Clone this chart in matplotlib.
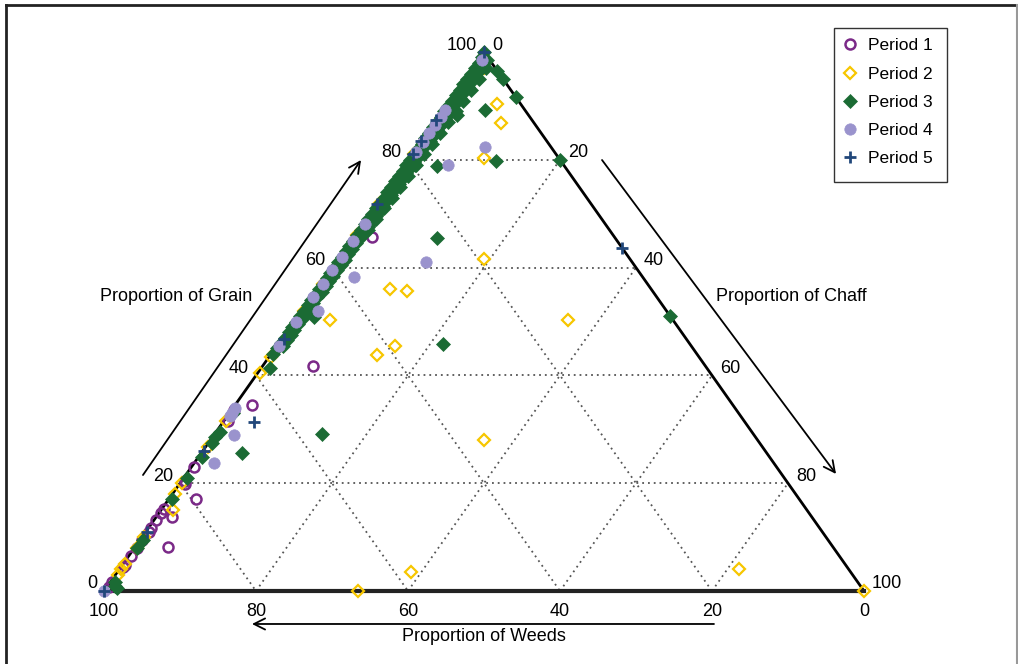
import matplotlib
matplotlib.use("Agg")
import matplotlib.pyplot as plt
from matplotlib.lines import Line2D
from matplotlib.patches import Rectangle
import numpy as np

plt.rcParams['font.family'] = ['Liberation Sans', 'DejaVu Sans']

# ---------------- data (percent grain, percent chaff; weeds = 100 - grain - chaff)
p1_grain = [65.7, 41.7, 34.5, 33.5, 31.5, 23.0, 20.5, 19.8, 17.1, 15.2, 14.5, 13.7,
            13.2, 11.7, 11.0, 9.5, 8.2, 8.0, 6.5, 4.8, 4.5, 1.7, 0.8]
p1_chaff = [2.4, 6.6, 2.2, 0.3, 0.5, 0.3, 0.4, 0.8, 3.5, 0.3, 0.2, 2.1,
            0.3, 0.3, 0.4, 0.2, 4.3, 0.3, 0.3, 0.4, 0.2, 0.2, 0.3]

p2_grain = [97.0, 90.4, 86.8, 80.3, 61.6, 56.0, 55.7, 50.3, 50.3, 43.8, 45.5, 28.0,
            3.5, 0.0, 4.1, 0.0, 15.0,
            81.0, 72.0, 66.0, 57.0, 52.0, 43.4, 40.4, 31.5, 26.7, 20.0, 18.0, 10.0,
            8.0, 5.0, 4.0, 3.0]
p2_chaff = [1.5, 6.5, 8.8, 9.8, 19.2, 9.6, 12.0, 4.6, 35.9, 14.0, 15.6, 36.0,
            38.6, 33.4, 81.5, 100.0, 1.6,
            0.3, 0.3, 0.3, 0.3, 0.3, 0.3, 0.3, 0.3, 0.3, 0.3, 0.3, 0.3,
            0.3, 0.3, 0.3, 0.3]

p3_grain = [96.5, 95.0, 91.7, 89.2, 79.8, 78.9, 79.0, 65.5, 45.8, 29.1, 50.8, 25.6,
            80.0, 51.0, 88.3,
            100, 99, 98, 97, 96, 95, 94, 93, 92, 91, 90, 89, 88, 87, 86, 85, 84, 83,
            82, 81, 80, 79, 78, 77, 76, 75, 74, 73, 72, 71, 70, 69, 68, 67, 66, 65,
            64, 63, 62, 61, 60, 59, 58, 57, 56, 55, 54, 53, 52, 51, 50, 49, 48, 47,
            46, 45, 44,
            98.5, 97.5, 96.5, 95.5, 94.5, 93.5, 92.5, 91.5, 90.5, 89.5, 88.5, 87.5,
            86.5, 85.5, 84.5, 83.5, 82.5, 81.5, 80.5, 79.5, 78.5, 77.5, 76.5, 75.5,
            74.5, 73.5, 72.5, 71.5, 70.5, 69.5, 68.5, 67.5, 66.5, 65.5, 64.5, 63.5,
            62.5, 61.5, 60.5, 59.5, 58.5, 57.5, 56.5, 55.5, 54.5, 53.5, 52.5, 51.5,
            50.5, 49.5, 48.5, 47.5, 46.5, 45.5,
            97.0, 95.0, 93.0, 91.0, 89.0, 87.0, 85.0, 83.0, 81.0, 79.0, 77.0, 75.0,
            73.0, 71.0, 69.0, 67.0,
            41.4, 33.0, 29.5, 28.5, 27.5, 24.9, 21.0, 17.0, 9.5, 8.0, 1.7, 1.0, 0.5]
p3_chaff = [3.5, 5.0, 8.3, 5.5, 11.7, 4.3, 1.4, 11.0, 21.7, 14.1, 2.2, 5.4,
            20.0, 49.0, 2.3,
            0.0, 0.3, 0.3, 0.3, 0.3, 0.3, 0.3, 0.3, 0.3, 0.3, 0.3, 0.3, 0.3, 0.3,
            0.3, 0.3, 0.3, 0.3, 0.3, 0.3, 0.3, 0.3, 0.3, 0.3, 0.3, 0.3, 0.3, 0.3,
            0.3, 0.3, 0.3, 0.3, 0.3, 0.3, 0.3, 0.3, 0.3, 0.3, 0.3, 0.3, 0.3, 0.3,
            0.3, 0.3, 0.3, 0.3, 0.3, 0.3, 0.3, 0.3, 0.3, 0.3, 0.3, 0.3, 0.3, 0.3,
            0.3,
            1.1, 1.1, 1.1, 1.1, 1.1, 1.1, 1.1, 1.1, 1.1, 1.1, 1.1, 1.1,
            1.1, 1.1, 1.1, 1.1, 1.0, 1.0, 1.0, 1.0, 1.0, 1.0, 1.0, 1.0,
            1.0, 1.0, 1.0, 1.0, 1.0, 1.0, 1.0, 1.0, 0.9, 0.9, 0.9, 0.9,
            0.9, 0.9, 0.9, 0.9, 0.9, 0.9, 0.9, 0.9, 0.8, 0.8, 0.8, 0.8,
            0.8, 0.8, 0.8, 0.8, 0.8, 0.8,
            1.8, 1.8, 1.8, 1.8, 1.8, 1.8, 1.7, 1.7, 1.6, 1.6, 1.5, 1.5,
            1.4, 1.4, 1.3, 1.3,
            1.1, 0.5, 0.5, 0.4, 0.4, 0.5, 0.4, 0.4, 0.4, 0.4, 0.6, 1.0, 1.5]

p4_grain = [98.5, 82.4, 79.0, 61.0, 58.3, 52.0, 28.9, 23.7,
            89.2, 88.0, 86.5, 85.0, 83.3, 81.5, 68.0, 65.0, 62.0, 59.5, 57.0, 54.5,
            50.0, 45.5, 34.0, 33.0, 32.5, 0.0]
p4_chaff = [0.5, 8.9, 5.8, 11.9, 3.7, 2.2, 2.7, 2.6,
            0.3, 0.3, 0.3, 0.3, 0.3, 0.3, 0.3, 0.3, 0.3, 0.3, 0.3, 0.3,
            0.3, 0.3, 0.3, 0.3, 0.3, 0.0]

p5_grain = [100.0, 63.6, 31.4, 0.0, 87.4, 83.5, 81.0, 71.8, 46.8, 26.0, 11.0]
p5_chaff = [0.0, 36.4, 4.0, 0.0, 0.0, 0.0, 0.2, 0.0, 0.3, 0.2, 0.2]

series_labels = ["Period 1", "Period 2", "Period 3", "Period 4", "Period 5"]
tick_values = [0, 20, 40, 60, 80, 100]


def tern(grain, chaff):
    g = np.asarray(grain, float) / 100.0
    c = np.asarray(chaff, float) / 100.0
    return c + g / 2.0, g


# ---------------- figure
W, H = 1018, 664
fig = plt.figure(figsize=(W / 100, H / 100), dpi=100)
fig.patch.set_facecolor('white')
ax = fig.add_axes([104 / W, (H - 591) / H, 760 / W, 539 / H])
ax.set_xlim(0, 1)
ax.set_ylim(0, 1)
ax.axis('off')

# grid lines
for k in [20, 40, 60, 80]:
    segs = [((k, 0), (k, 100 - k)),            # grain constant
            ((0, k), (100 - k, k)),            # chaff constant
            ((100 - k, 0), (0, 100 - k))]      # weeds constant
    for (g0, c0), (g1, c1) in segs:
        x, y = tern([g0, g1], [c0, c1])
        ax.plot(x, y, linestyle=(0, (1, 2.2)), color='#555555', lw=1.3,
                clip_on=False, zorder=1)

# triangle
tx, ty = tern([0, 100, 0, 0], [0, 0, 100, 0])
ax.plot(tx[:2], ty[:2], color='black', lw=2, clip_on=False, zorder=2)
ax.plot(tx[1:3], ty[1:3], color='black', lw=2, clip_on=False, zorder=2)
ax.plot(tx[2:4], ty[2:4], color='#222222', lw=3, clip_on=False, zorder=2)

# points
styles = [
    dict(marker='o', ms=7.2, mfc='none', mec='#7B2A88', mew=1.8),
    dict(marker='D', ms=6.2, mfc='none', mec='#F7C600', mew=1.6),
    dict(marker='D', ms=7.4, mfc='#1B6B34', mec='#1B6B34', mew=0.5),
    dict(marker='o', ms=8.2, mfc='#9A93CD', mec='#9A93CD', mew=0.5),
    dict(marker='+', ms=8, mfc='none', mec='#21477A', mew=2.0),
]
data = [(p1_grain, p1_chaff), (p2_grain, p2_chaff), (p3_grain, p3_chaff),
        (p4_grain, p4_chaff), (p5_grain, p5_chaff)]
handles = []
for i, ((g, c), st) in enumerate(zip(data, styles)):
    x, y = tern(g, c)
    ax.plot(x, y, linestyle='none', clip_on=False, zorder=3 + i, **st)
    handles.append(Line2D([], [], linestyle='none', label=series_labels[i], **st))

# tick labels
fs = 13
for v in tick_values:
    x, y = tern([v], [0])
    ax.annotate(str(v), (x[0], y[0]), xytext=(-7, 7), textcoords='offset pixels',
                ha='right', va='center', fontsize=fs, annotation_clip=False)
    x, y = tern([100 - v], [v])
    ax.annotate(str(v), (x[0], y[0]), xytext=(8, 7), textcoords='offset pixels',
                ha='left', va='center', fontsize=fs, annotation_clip=False)
    x, y = tern([0], [100 - v])
    ax.annotate(str(v), (x[0], y[0]), xytext=(0, -20), textcoords='offset pixels',
                ha='center', va='center', fontsize=fs, annotation_clip=False)

# axis titles
ax.text(0.0947, 0.5455, "Proportion of Grain", ha='center', va='center', fontsize=fs)
ax.text(0.905, 0.5455, "Proportion of Chaff", ha='center', va='center', fontsize=fs)
ax.text(0.5, -0.0835, "Proportion of Weeds", ha='center', va='center', fontsize=fs)

arrow_kw = dict(arrowstyle='->', lw=1.3, color='black', mutation_scale=20,
                shrinkA=0, shrinkB=0)
ax.annotate('', xy=(0.3382, 0.7996), xytext=(0.0513, 0.2152),
            arrowprops=arrow_kw, annotation_clip=False)
ax.annotate('', xy=(0.9632, 0.2171), xytext=(0.6553, 0.7996),
            arrowprops=arrow_kw, annotation_clip=False)
ax.annotate('', xy=(0.1947, -0.0612), xytext=(0.8026, -0.0612),
            arrowprops=arrow_kw, annotation_clip=False)

# legend (frame drawn separately)
leg = fig.legend(handles=handles, loc='upper left',
                 bbox_to_anchor=(834 / W, 1 - 31 / H), fontsize=12.5,
                 frameon=False, handlelength=1.0, handletextpad=0.53,
                 labelspacing=0.75, borderpad=0.42, borderaxespad=0)
fig.add_artist(Rectangle((834 / W, 1 - 182 / H), (947 - 834) / W, (182 - 28) / H,
                         transform=fig.transFigure, fill=False,
                         edgecolor='#333333', lw=1.0))

# outer frame of the image
fig.add_artist(Line2D([6 / W, 6 / W], [0, 1 - 5 / H], transform=fig.transFigure,
                      color='#222222', lw=2))
fig.add_artist(Line2D([6 / W, 1017 / W], [1 - 5 / H, 1 - 5 / H],
                      transform=fig.transFigure, color='#222222', lw=2))
fig.add_artist(Line2D([1016.5 / W, 1016.5 / W], [0, 1 - 5 / H],
                      transform=fig.transFigure, color='#999999', lw=1.5))

fig.savefig('out.png', dpi=100)
